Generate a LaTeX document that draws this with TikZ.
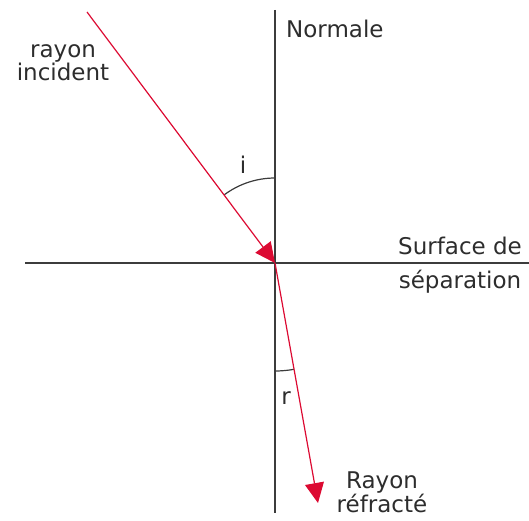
\documentclass[tikz,border=0pt]{standalone}
\usepackage{fontspec}
\setmainfont{DejaVu Sans}
\usetikzlibrary{arrows.meta}
\definecolor{raycol}{RGB}{220,10,50}
\definecolor{linecol}{RGB}{60,60,60}
\definecolor{textcol}{RGB}{45,45,45}
\tikzset{
    planeline/.style={draw=linecol, line width=1.5pt},
    ray/.style={draw=raycol, line width=1.2pt, -{Triangle[length=20pt, width=19pt]}},
    anglearc/.style={draw=linecol, line width=1.2pt},
    lbl/.style={text=textcol, font=\fontsize{23pt}{23pt}\selectfont, align=center, inner sep=0pt}
}

\begin{document}
\begin{tikzpicture}[x=1pt, y=1pt]
\useasboundingbox (0,0) rectangle (529,520);
\coordinate (O) at (275,257);
\coordinate (ntop) at (275,510);
\coordinate (nbot) at (275,7);
\coordinate (sleft) at (25,257);
\coordinate (sright) at (529,257);
\coordinate (src) at (87,508);
\coordinate (dst) at (318,17);
% normale et surface
\draw[planeline] (ntop) -- (nbot);
\draw[planeline] (sleft) -- (sright);
% angles
\draw[anglearc] (O) ++(90:85) arc[start angle=90, end angle=126.8, radius=85];
\draw[anglearc] (O) ++(-90:108) arc[start angle=-90, end angle=-79.8, radius=108];
% rayons
\draw[ray] (src) -- (O);
\draw[ray] (O) -- (dst);
\node[lbl, anchor=base west] (normale) at (286,482) {Normale};
\node[lbl, font=\fontsize{23pt}{22pt}\selectfont] (incident) at (63,457) {rayon\\incident};
\node[lbl, font=\fontsize{23pt}{34pt}\selectfont] (surface) at (460,255) {Surface de\\séparation};
\node[lbl] (refracte) at (382,28) {Rayon\\réfracté};
\node[lbl] (i) at (243,355) {i};
\node[lbl] (r) at (286,122) {r};
\end{tikzpicture}
\end{document}
